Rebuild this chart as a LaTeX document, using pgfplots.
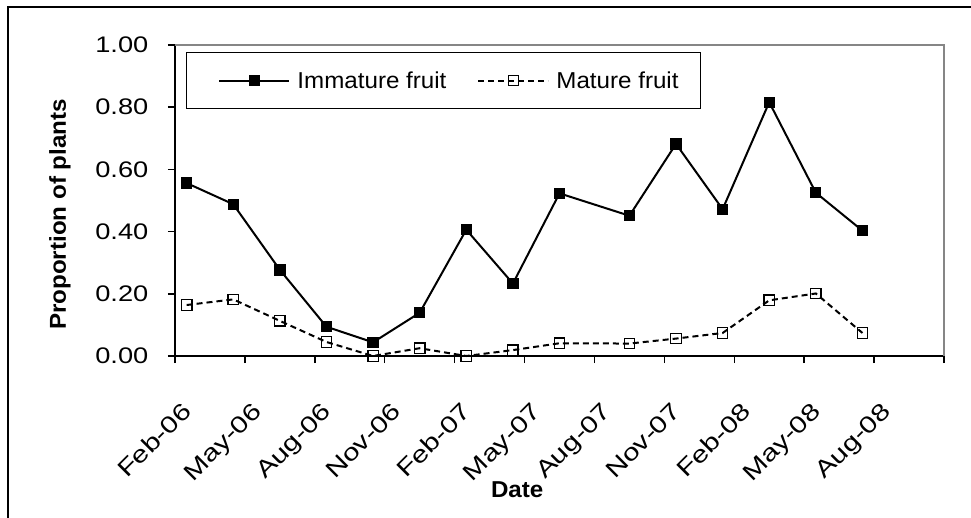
\documentclass[border=0pt]{standalone}
\usepackage{fontspec}
\setmainfont{Liberation Sans}[FakeStretch=1.05]
\newfontfamily\tickfont{Liberation Sans}[FakeStretch=1.21]
\newfontfamily\xtickfont{Liberation Sans}[FakeStretch=1.25]
\usepackage{pgfplots}
\usepackage{pgfplotstable}
\pgfplotsset{compat=1.18}
\definecolor{framegray}{RGB}{134,134,134}
\pgfplotstableread{
x imm mat
0.5 0.556 0.164
2.5 0.488 0.182
4.5 0.277 0.113
6.5 0.094 0.045
8.5 0.044 0.000
10.5 0.139 0.025
12.5 0.406 0.000
14.5 0.233 0.019
16.5 0.523 0.041
19.5 0.451 0.040
21.5 0.682 0.056
23.5 0.472 0.074
25.5 0.816 0.179
27.5 0.525 0.201
29.5 0.403 0.074
}\data
\begin{document}
\begin{tikzpicture}
\useasboundingbox (0,0) rectangle (971bp,518bp);
\draw[line width=2bp] (8.3bp,0) -- (8.3bp,511.3bp) -- (971bp,511.3bp);
\begin{axis}[
  at={(175bp,162bp)}, anchor=south west,
  scale only axis, width=769bp, height=311bp,
  xmin=0, xmax=33, ymin=0, ymax=1,
  clip=false,
  axis x line*=bottom, axis y line*=left,
  axis line style={line width=1.5bp, black},
  tick align=outside,
  major tick length=7bp,
  every tick/.style={line width=1.5bp, black},
  xtick={0,3,...,33},
  xticklabels={Feb-06,May-06,Aug-06,Nov-06,Feb-07,May-07,Aug-07,Nov-07,Feb-08,May-08,Aug-08,{}},
  ytick={0,0.2,...,1.0},
  /pgf/number format/assume math mode=true,
  yticklabel style={/pgf/number format/fixed, /pgf/number format/fixed zerofill, /pgf/number format/precision=2,
     anchor=east, inner sep=0pt, xshift=-19.5bp, font=\tickfont\fontsize{22.5bp}{27bp}\selectfont},
  xticklabel style={xshift=12bp, yshift=-44bp, rotate=45, anchor=east, inner sep=0pt, text depth=0pt,
     font=\xtickfont\fontsize{23.5bp}{27bp}\selectfont},
  xlabel={Date}, ylabel={Proportion of plants},
  xlabel style={at={(rel axis cs:0.445,-0.431)}, anchor=center, inner sep=0pt, font=\fontsize{23bp}{27bp}\selectfont\bfseries},
  ylabel style={at={(rel axis cs:-0.1495,0.455)}, anchor=center, inner sep=0pt, font=\fontsize{23bp}{27bp}\selectfont\bfseries},
  legend columns=2,
  legend style={at={(rel axis cs:0.0143,0.9775)}, anchor=north west, draw=black, line width=1bp,
     inner xsep=22bp, inner ysep=19bp,
     font=\fontsize{23bp}{27bp}\selectfont,
     nodes={inner sep=0pt},
     /tikz/every odd column/.append style={column sep=7bp},
     /tikz/every even column/.append style={column sep=21bp}},
  legend image code/.code={
     \path (-10bp,0bp) (0bp,0bp);
     \draw[mark repeat=2,mark phase=2] plot coordinates {(0bp,0bp) (35bp,0bp) (70bp,0bp)};
  },
]
\draw[framegray, line width=2bp] (rel axis cs:0,1) -- (rel axis cs:1,1) -- (rel axis cs:1,0);
\addplot[black, line width=2bp, mark=square*, mark size=4.9bp, mark options={solid, fill=black, line width=1.5bp}] table[x=x,y=imm]{\data};
\addlegendentry{Immature fruit}
\addplot[black, line width=2bp, dash pattern=on 6bp off 4bp, mark=square, mark size=5.2bp, mark options={solid, line width=1.3bp}] table[x=x,y=mat]{\data};
\addlegendentry{Mature fruit}
\end{axis}
\end{tikzpicture}
\end{document}
